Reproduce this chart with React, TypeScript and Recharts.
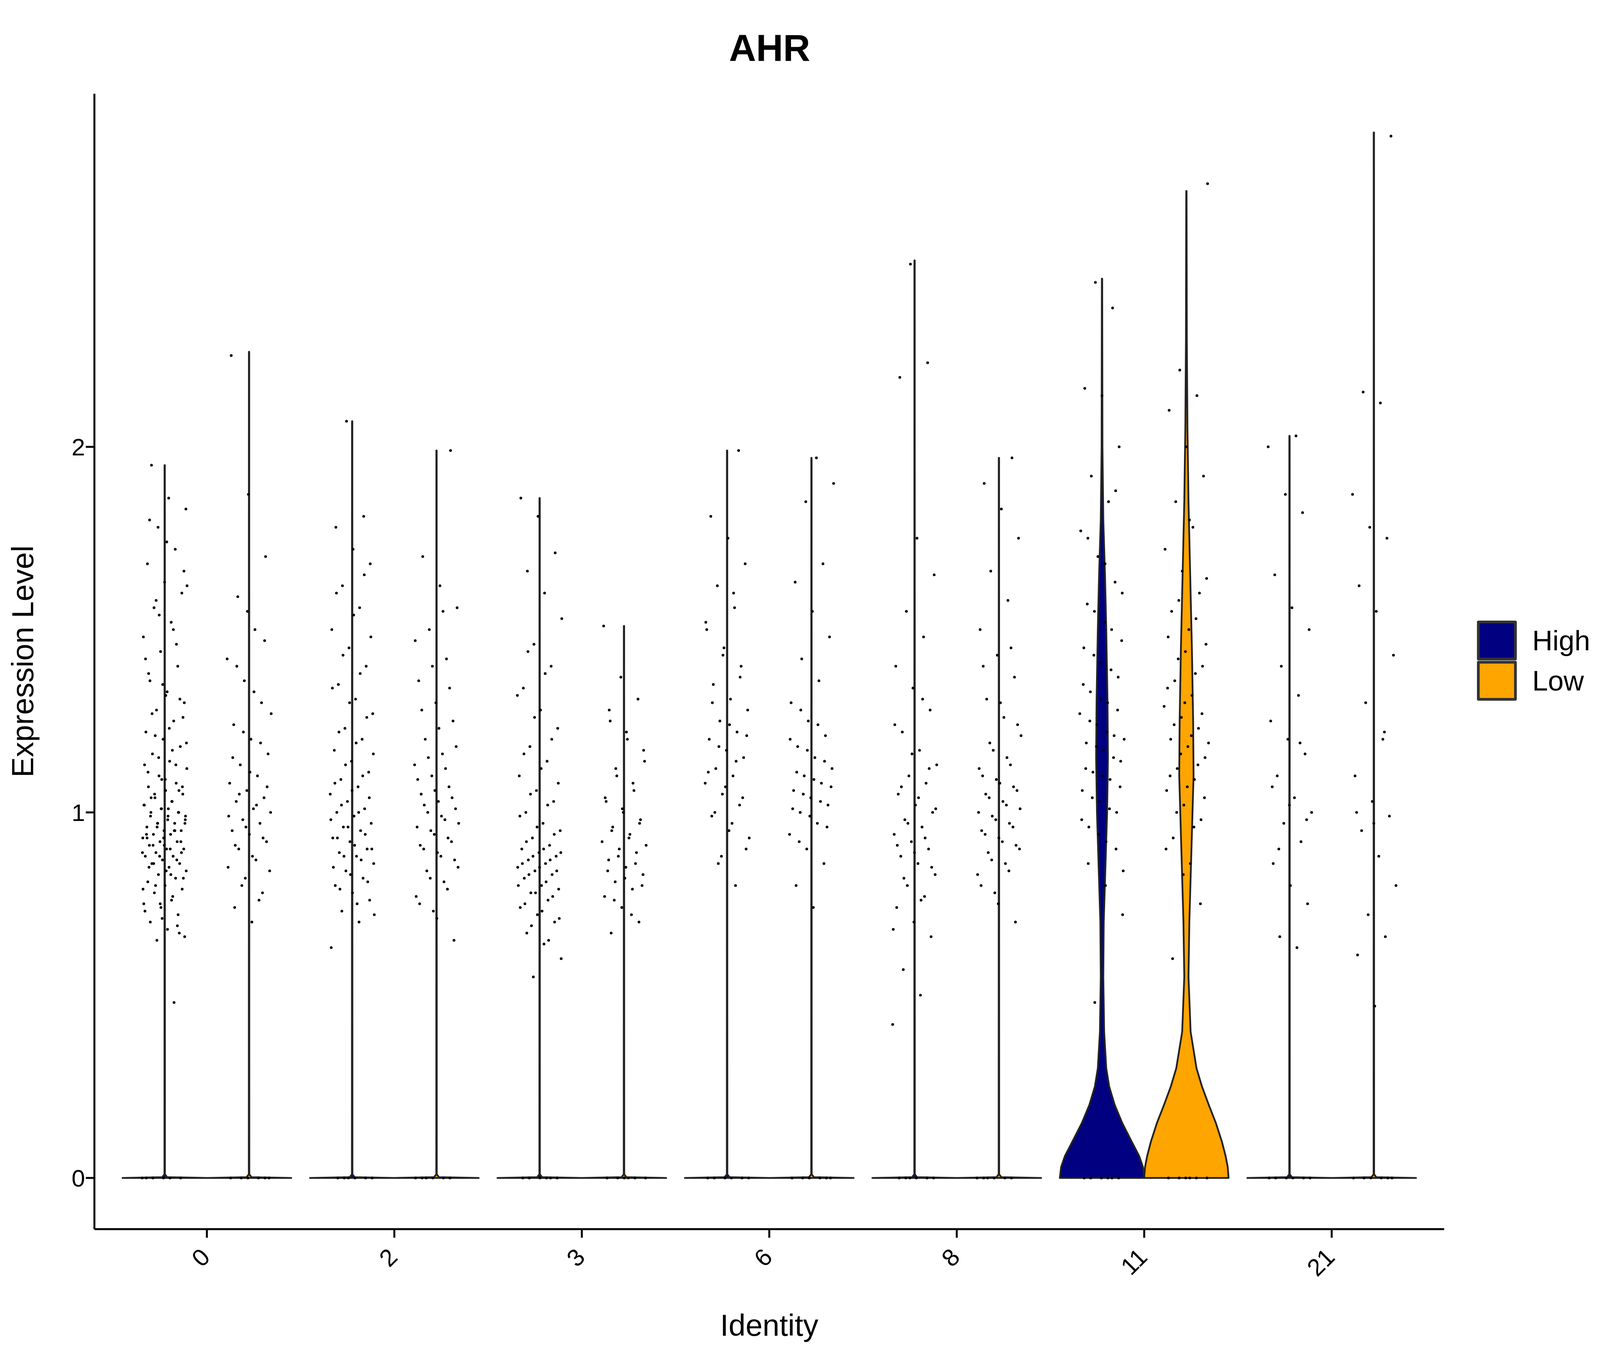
import React from "react";
import { ComposedChart, Scatter, XAxis, YAxis } from "recharts";

const categories = ["0", "2", "3", "6", "8", "11", "21"];
const groups = ["High", "Low"];
const groupColors = { High: "#000080", Low: "#FFA500" };

// Expression values of the non-zero cells, per identity and group
const cells0High = [0.48, 0.65, 0.66, 0.68, 0.7, 0.72, 0.74, 0.75, 0.76, 0.78, 0.79, 0.8, 0.81, 0.82, 0.83, 0.84, 0.85, 0.86, 0.86, 0.87, 0.88, 0.88, 0.89, 0.9, 0.9, 0.91, 0.92, 0.92, 0.93, 0.94, 0.94, 0.95, 0.95, 0.96, 0.97, 0.97, 0.98, 0.99, 1.0, 1.0, 1.01, 1.02, 1.03, 1.04, 1.05, 1.06, 1.07, 1.08, 1.1, 1.12, 1.14, 1.16, 1.18, 1.2, 1.22, 1.25, 1.28, 1.3, 1.33, 1.36, 1.4, 1.44, 1.48, 1.52, 1.56, 1.6, 1.63, 1.68, 1.72, 1.78, 1.83, 1.86, 1.95,
  0.67, 0.71, 0.73, 0.77, 0.8, 0.82, 0.84, 0.85, 0.87, 0.88, 0.89, 0.9, 0.91, 0.92, 0.93, 0.94, 0.95, 0.96, 0.97, 0.98, 0.99, 1.0, 1.01, 1.02, 1.03, 1.05, 1.07, 1.09, 1.11, 1.13, 1.15, 1.19, 1.23, 1.27, 1.31, 1.35, 1.42, 1.5, 1.58, 1.66, 1.74, 1.8,
  0.69, 0.75, 0.79, 0.83, 0.86, 0.89, 0.91, 0.93, 0.95, 0.97, 0.99, 1.01, 1.04, 1.06, 1.09, 1.13, 1.17, 1.21, 1.26, 1.32, 1.38, 1.46, 1.54, 1.62];
const cells0Low = [0.7, 0.74, 0.78, 0.82, 0.85, 0.87, 0.9, 0.92, 0.94, 0.95, 0.97, 0.98, 1.0, 1.01, 1.03, 1.04, 1.06, 1.08, 1.1, 1.13, 1.16, 1.2, 1.24, 1.3, 1.36, 1.42, 1.5, 1.59, 1.7, 1.87, 2.25,
  0.76, 0.8, 0.84, 0.88, 0.91, 0.93, 0.96, 0.99, 1.02, 1.05, 1.07, 1.11, 1.15, 1.19, 1.22, 1.27, 1.33, 1.4, 1.47, 1.55];
const cells2High = [0.63, 0.7, 0.73, 0.76, 0.78, 0.8, 0.82, 0.84, 0.86, 0.88, 0.89, 0.9, 0.92, 0.93, 0.95, 0.96, 0.97, 0.99, 1.0, 1.01, 1.03, 1.05, 1.07, 1.09, 1.11, 1.14, 1.17, 1.2, 1.23, 1.27, 1.31, 1.35, 1.4, 1.45, 1.5, 1.56, 1.62, 1.68, 1.72, 1.78, 1.81, 2.07,
  0.72, 0.75, 0.79, 0.81, 0.83, 0.85, 0.87, 0.88, 0.9, 0.91, 0.93, 0.94, 0.96, 0.98, 1.0, 1.02, 1.04, 1.06, 1.08, 1.1, 1.13, 1.16, 1.19, 1.22, 1.26, 1.3, 1.34, 1.38, 1.43, 1.48, 1.54, 1.6, 1.65];
const cells2Low = [0.65, 0.71, 0.75, 0.79, 0.82, 0.85, 0.88, 0.9, 0.92, 0.94, 0.96, 0.98, 1.0, 1.01, 1.03, 1.05, 1.07, 1.1, 1.13, 1.16, 1.2, 1.25, 1.3, 1.36, 1.42, 1.5, 1.56, 1.62, 1.7, 1.99,
  0.73, 0.77, 0.81, 0.84, 0.87, 0.89, 0.91, 0.93, 0.95, 0.97, 0.99, 1.02, 1.04, 1.06, 1.09, 1.12, 1.15, 1.18, 1.23, 1.28, 1.34, 1.4, 1.47, 1.55];
const cells3High = [0.55, 0.6, 0.64, 0.67, 0.7, 0.72, 0.74, 0.76, 0.78, 0.79, 0.8, 0.82, 0.83, 0.84, 0.85, 0.86, 0.87, 0.88, 0.89, 0.9, 0.91, 0.93, 0.95, 0.97, 1.0, 1.03, 1.06, 1.1, 1.14, 1.18, 1.23, 1.28, 1.34, 1.4, 1.46, 1.53, 1.6, 1.66, 1.71, 1.81, 1.86,
  0.65, 0.69, 0.71, 0.73, 0.75, 0.77, 0.78, 0.8, 0.81, 0.83, 0.84, 0.85, 0.86, 0.87, 0.88, 0.89, 0.9, 0.92, 0.94, 0.96, 0.99, 1.02, 1.05, 1.08, 1.12, 1.16, 1.2, 1.26, 1.32, 1.38, 1.44];
const cells3Low = [0.67, 0.7, 0.74, 0.77, 0.79, 0.81, 0.83, 0.85, 0.87, 0.89, 0.9, 0.92, 0.94, 0.96, 0.98, 1.0, 1.03, 1.06, 1.1, 1.14, 1.2, 1.25, 1.31, 1.37, 1.51,
  0.72, 0.76, 0.8, 0.82, 0.84, 0.86, 0.88, 0.91, 0.93, 0.95, 0.97, 1.01, 1.04, 1.08, 1.12, 1.17, 1.22, 1.28];
const cells6High = [0.8, 0.86, 0.9, 0.95, 0.99, 1.02, 1.05, 1.08, 1.1, 1.12, 1.15, 1.17, 1.2, 1.22, 1.25, 1.28, 1.31, 1.35, 1.4, 1.45, 1.5, 1.56, 1.62, 1.68, 1.75, 1.81, 1.99,
  0.88, 0.93, 0.97, 1.0, 1.04, 1.07, 1.11, 1.14, 1.18, 1.21, 1.24, 1.3, 1.37, 1.43, 1.52, 1.6];
const cells6Low = [0.74, 0.8, 0.86, 0.9, 0.94, 0.97, 1.0, 1.02, 1.04, 1.06, 1.08, 1.1, 1.12, 1.15, 1.18, 1.21, 1.25, 1.3, 1.36, 1.42, 1.48, 1.55, 1.63, 1.68, 1.85, 1.9, 1.97,
  0.92, 0.96, 0.99, 1.01, 1.03, 1.05, 1.07, 1.09, 1.11, 1.14, 1.17, 1.2, 1.24, 1.28];
const cells8High = [0.42, 0.5, 0.57, 0.66, 0.7, 0.74, 0.77, 0.8, 0.83, 0.86, 0.88, 0.9, 0.92, 0.94, 0.96, 0.98, 1.0, 1.02, 1.05, 1.08, 1.1, 1.13, 1.17, 1.22, 1.28, 1.34, 1.4, 1.48, 1.55, 1.65, 1.75, 2.19, 2.23, 2.5,
  0.68, 0.76, 0.82, 0.85, 0.89, 0.91, 0.93, 0.97, 1.01, 1.04, 1.07, 1.12, 1.16, 1.24, 1.31];
const cells8Low = [0.7, 0.75, 0.8, 0.84, 0.87, 0.9, 0.92, 0.94, 0.96, 0.98, 1.0, 1.02, 1.04, 1.06, 1.08, 1.1, 1.13, 1.17, 1.21, 1.26, 1.31, 1.37, 1.43, 1.5, 1.58, 1.66, 1.75, 1.83, 1.9, 1.97,
  0.78, 0.83, 0.86, 0.89, 0.91, 0.93, 0.95, 0.97, 0.99, 1.01, 1.03, 1.05, 1.07, 1.09, 1.12, 1.15, 1.19, 1.24, 1.3, 1.4, 1.45];
const cells11High = [0.48, 0.72, 0.8, 0.86, 0.9, 0.94, 0.98, 1.01, 1.04, 1.07, 1.1, 1.12, 1.15, 1.18, 1.2, 1.22, 1.25, 1.28, 1.31, 1.35, 1.39, 1.43, 1.47, 1.52, 1.57, 1.63, 1.7, 1.77, 1.85, 1.92, 2.0, 2.14, 2.16, 2.38, 2.45,
  0.84, 0.92, 0.96, 1.0, 1.03, 1.06, 1.09, 1.11, 1.14, 1.17, 1.19, 1.21, 1.24, 1.27, 1.3, 1.33, 1.37, 1.41, 1.45, 1.5, 1.55, 1.6, 1.68, 1.75, 1.88];
const cells11Low = [0.6, 0.75, 0.83, 0.9, 0.96, 1.0, 1.04, 1.07, 1.1, 1.13, 1.16, 1.19, 1.21, 1.24, 1.27, 1.3, 1.34, 1.38, 1.42, 1.46, 1.5, 1.55, 1.6, 1.66, 1.72, 1.78, 1.85, 1.92, 2.0, 2.1, 2.14, 2.21, 2.72,
  0.86, 0.93, 0.98, 1.02, 1.06, 1.09, 1.12, 1.15, 1.18, 1.2, 1.23, 1.26, 1.29, 1.32, 1.36, 1.4, 1.44, 1.48, 1.53, 1.58, 1.64, 1.8];
const cells21High = [0.63, 0.66, 0.75, 0.8, 0.86, 0.92, 0.97, 1.0, 1.04, 1.1, 1.16, 1.2, 1.25, 1.32, 1.4, 1.5, 1.56, 1.65, 1.82, 1.87, 2.0, 2.03, 0.9, 0.98, 1.02, 1.07, 1.19];
const cells21Low = [0.47, 0.61, 0.66, 0.72, 0.8, 0.88, 0.95, 0.99, 1.03, 1.1, 1.2, 1.3, 1.43, 1.55, 1.62, 1.75, 1.78, 1.87, 2.12, 2.15, 2.85, 0.97, 1.0, 1.22];

const cellValues = [
  [cells0High, cells0Low],
  [cells2High, cells2Low],
  [cells3High, cells3Low],
  [cells6High, cells6Low],
  [cells8High, cells8Low],
  [cells11High, cells11Low],
  [cells21High, cells21Low],
];

// Violin density profiles: [expression, relative half-width]
const flatProfile = (max: number) => [[0, 1], [0.002, 0.06], [0.01, 0.006], [max, 0.004]];
const profile11High = [[0, 1], [0.03, 0.97], [0.06, 0.88], [0.1, 0.7], [0.15, 0.48], [0.2, 0.3], [0.25, 0.17], [0.3, 0.1], [0.4, 0.05], [0.55, 0.03], [0.7, 0.04], [0.85, 0.08], [1.0, 0.12], [1.15, 0.14], [1.3, 0.13], [1.5, 0.1], [1.65, 0.07], [1.8, 0.03], [2.0, 0.01], [2.46, 0.004]];
const profile11Low = [[0, 1], [0.03, 0.98], [0.06, 0.93], [0.1, 0.84], [0.15, 0.7], [0.2, 0.53], [0.25, 0.37], [0.3, 0.24], [0.4, 0.1], [0.55, 0.05], [0.7, 0.07], [0.9, 0.12], [1.1, 0.17], [1.25, 0.16], [1.45, 0.13], [1.65, 0.09], [1.85, 0.05], [2.05, 0.025], [2.3, 0.01], [2.7, 0.004]];
const profiles = [
  [flatProfile(1.95), flatProfile(2.26)],
  [flatProfile(2.07), flatProfile(1.99)],
  [flatProfile(1.86), flatProfile(1.51)],
  [flatProfile(1.99), flatProfile(1.97)],
  [flatProfile(2.51), flatProfile(1.97)],
  [profile11High, profile11Low],
  [flatProfile(2.03), flatProfile(2.86)],
];

const HALF = 0.225;
const OFFSET = 0.225;

const ViolinPath = (props: any) => {
  const pts = props.points || [];
  if (!pts.length) return null;
  const d = pts.map((p: any, i: number) => `${i ? "L" : "M"}${p.x},${p.y}`).join(" ") + " Z";
  return <path d={d} fill={props.violinFill} stroke="#222" strokeWidth={4.5} strokeLinejoin="round" />;
};

const Dot = (props: any) => <circle cx={props.cx} cy={props.cy} r={3.5} fill="#000" />;

const XTick = (props: any) => {
  const { x, y, payload } = props;
  return (
    <g transform={`translate(${x},${y + 40})`}>
      <text transform="rotate(-45)" textAnchor="end" dominantBaseline="middle" fontSize={62} fill="#000" fontFamily="Liberation Sans">
        {categories[payload.value - 1]}
      </text>
    </g>
  );
};

export default function App() {
  const W = Math.min(5000, (typeof window !== "undefined" && window.innerWidth) || 5000);
  const sx = W / 5000;
  const violins: any[] = [];
  const dots: any[] = [];
  categories.forEach((c, ci) => {
    groups.forEach((g, gi) => {
      const cx = ci + 1 + (gi === 0 ? -OFFSET : OFFSET);
      const prof = profiles[ci][gi];
      const right = prof.map(([y, w]) => ({ x: cx + w * HALF, y }));
      const left = prof.slice().reverse().map(([y, w]) => ({ x: cx - w * HALF, y }));
      violins.push({ key: `${c}-${g}`, fill: (groupColors as any)[g], data: [...right, ...left] });
      const vals = [0, 0, 0, 0, 0, 0, ...cellValues[ci][gi]];
      vals.forEach((v, k) => {
        const j = (((k + ci * 7 + gi * 3) * 0.618034) % 1) - 0.5;
        dots.push({ x: cx + j * 0.24, y: v });
      });
    });
  });

  return (
    <div style={{ position: "absolute", left: 0, top: 0, width: W, height: 3500, background: "#fff", fontFamily: "Liberation Sans", overflow: "hidden" }}>
      <div style={{ position: "absolute", left: 0, width: 4810 * sx, top: 68, textAlign: "center", fontSize: 96, fontWeight: "bold" }}>AHR</div>
      <ComposedChart width={W} height={3500} margin={{ top: 240, right: 487 * sx, bottom: 0, left: 0 }}>
        <XAxis
          type="number"
          dataKey="x"
          domain={[0.4, 7.6]}
          ticks={[1, 2, 3, 4, 5, 6, 7]}
          allowDataOverflow
          height={353}
          stroke="#000"
          strokeWidth={5}
          tickSize={22}
          tick={<XTick />}
          label={{ value: "Identity", position: "insideBottom", offset: 80, fontSize: 78, fill: "#000", fontFamily: "Liberation Sans" }}
        />
        <YAxis
          type="number"
          dataKey="y"
          domain={[-0.14, 2.966]}
          ticks={[0, 1, 2]}
          allowDataOverflow
          width={295 * sx}
          stroke="#000"
          strokeWidth={5}
          tickSize={22}
          tick={{ fontSize: 62, fill: "#000", fontFamily: "Liberation Sans" }}
          label={{ value: "Expression Level", angle: -90, position: "insideLeft", offset: 70 * sx, fontSize: 78, fill: "#000", fontFamily: "Liberation Sans", style: { textAnchor: "middle" } }}
        />
        {violins.map((v) => (
          <Scatter
            key={v.key}
            data={v.data}
            isAnimationActive={false}
            lineType="joint"
            line={(p: any) => <ViolinPath {...p} violinFill={v.fill} />}
            shape={() => <g />}
          />
        ))}
        <Scatter data={dots} isAnimationActive={false} shape={<Dot />} />
      </ComposedChart>
      <div style={{ position: "absolute", left: 4615 * sx, top: 1588 }}>
        {groups.map((g) => (
          <div key={g} style={{ display: "flex", alignItems: "center", height: 103 }}>
            <div style={{ width: 88, height: 88, background: (groupColors as any)[g], border: "7px solid #333", borderRadius: 4 }} />
            <span style={{ marginLeft: 40, fontSize: 72 }}>{g}</span>
          </div>
        ))}
      </div>
    </div>
  );
}
